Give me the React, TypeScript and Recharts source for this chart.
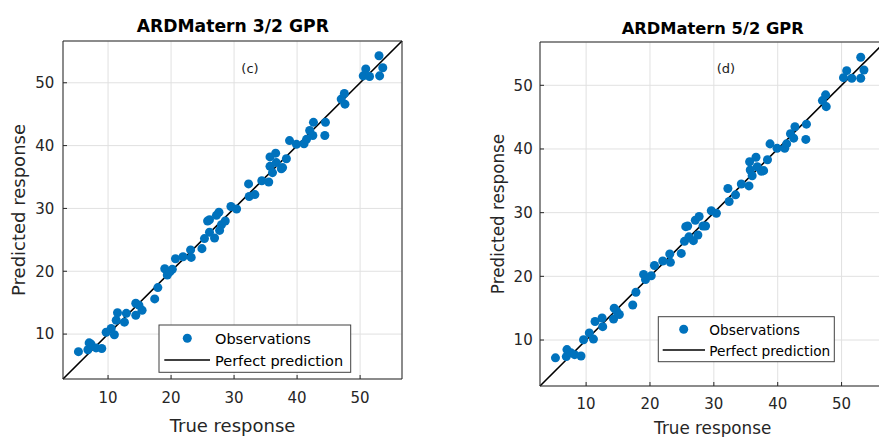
import React from 'react';
import { ScatterChart, Scatter, XAxis, YAxis, ZAxis, CartesianGrid, ReferenceLine } from 'recharts';

// ---- data ----
const tickValues = [10, 20, 30, 40, 50];

const trueC = [5.3, 6.8, 7.0, 7.3, 8.1, 9.0, 9.7, 10.5, 11.0, 11.3, 11.5, 12.6, 12.9, 14.4, 14.4, 14.9, 15.4, 17.4, 17.9, 19.0, 19.4, 19.8, 20.2, 20.7, 21.9, 23.1, 23.2, 24.9, 25.3, 26.1, 25.8, 26.1, 26.9, 27.2, 27.6, 27.7, 28.0, 28.6, 29.5, 30.4, 32.3, 32.4, 33.3, 34.4, 35.5, 35.7, 35.7, 36.1, 36.6, 36.7, 37.5, 37.7, 38.3, 38.8, 39.9, 41.1, 41.5, 42.0, 42.5, 42.6, 44.4, 44.5, 47.0, 47.5, 47.6, 50.5, 50.9, 51.5, 53.0, 53.1, 53.6];
const predC = [7.2, 7.5, 8.6, 8.4, 7.8, 7.7, 10.3, 10.9, 9.9, 12.2, 13.4, 11.9, 13.3, 13.0, 14.9, 14.6, 13.8, 15.6, 17.4, 20.4, 19.4, 19.9, 20.3, 22.0, 22.3, 23.4, 22.2, 23.6, 25.2, 26.2, 28.0, 28.2, 25.3, 28.9, 29.4, 26.5, 27.4, 28.0, 30.3, 29.9, 33.9, 31.9, 32.2, 34.4, 34.2, 36.7, 38.2, 35.7, 38.8, 37.3, 36.3, 36.5, 37.9, 40.8, 40.2, 40.3, 41.0, 42.4, 41.6, 43.7, 41.6, 43.7, 47.4, 48.3, 46.6, 51.1, 52.2, 51.0, 54.3, 51.1, 52.4];

const trueD = [5.2, 6.9, 7.0, 7.6, 8.2, 9.2, 9.6, 10.5, 11.15, 11.4, 12.5, 12.6, 14.3, 14.4, 14.8, 15.2, 17.3, 17.8, 19.0, 19.3, 20.2, 20.7, 22.0, 23.1, 23.2, 24.9, 25.4, 26.1, 25.6, 25.9, 26.8, 27.1, 27.7, 27.5, 28.3, 28.7, 29.6, 30.4, 32.2, 32.4, 33.4, 34.3, 35.5, 35.6, 36.6, 35.7, 36.0, 36.8, 37.45, 37.8, 38.4, 38.8, 39.9, 41.1, 41.4, 42.0, 42.5, 42.7, 44.5, 44.4, 47.0, 47.5, 47.6, 50.3, 50.8, 51.6, 53.0, 53.0, 53.5];
const predD = [7.2, 7.4, 8.5, 8.0, 7.7, 7.5, 10.05, 11.1, 10.15, 12.9, 13.45, 12.1, 13.3, 15.0, 14.5, 14.0, 15.5, 17.5, 20.3, 19.5, 20.1, 21.7, 22.4, 23.5, 22.2, 23.6, 25.5, 26.2, 27.8, 27.9, 25.6, 28.8, 29.4, 26.5, 27.9, 27.9, 30.3, 29.9, 33.8, 31.75, 32.8, 34.5, 34.2, 38.0, 38.7, 36.7, 35.8, 37.2, 36.5, 36.6, 38.3, 40.8, 40.1, 40.1, 40.8, 42.4, 41.7, 43.5, 43.9, 41.5, 47.6, 48.5, 46.65, 51.2, 52.3, 51.1, 54.4, 51.1, 52.4];

const domainC: [number, number] = [2.85, 56.65];
const domainD: [number, number] = [2.78, 56.8];

const dataC = trueC.map((x, i) => ({ x, y: predC[i] }));
const dataD = trueD.map((x, i) => ({ x, y: predD[i] }));

const FONT = '"DejaVu Sans", sans-serif';
const AX = '#262626';
const BLUE = '#0072BD';

type PanelProps = {
  data: { x: number; y: number }[];
  domain: [number, number];
  width: number;
  height: number;
  margin: { top: number; right: number; bottom: number; left: number };
  xTickMargin: number;
  yTickMargin: number;
};

function Panel({ data, domain, width, height, margin, xTickMargin, yTickMargin }: PanelProps) {
  const tickStyle = { fill: AX, fontSize: 15, fontFamily: FONT };
  return (
    <ScatterChart width={width} height={height} margin={margin}>
      <CartesianGrid stroke="#e1e1e1" strokeWidth={1} />
      <XAxis
        type="number"
        dataKey="x"
        domain={domain}
        ticks={tickValues}
        allowDataOverflow
        orientation="bottom"
        height={30}
        tickSize={-4}
        tickMargin={xTickMargin}
        stroke={AX}
        tick={tickStyle}
        interval={0}
      />
      <XAxis
        xAxisId="top"
        type="number"
        domain={domain}
        ticks={tickValues}
        allowDataOverflow
        orientation="top"
        height={2}
        tickSize={-4}
        stroke={AX}
        tick={false}
      />
      <YAxis
        type="number"
        dataKey="y"
        domain={domain}
        ticks={tickValues}
        allowDataOverflow
        orientation="left"
        width={40}
        tickSize={-4}
        tickMargin={yTickMargin}
        stroke={AX}
        tick={tickStyle}
        interval={0}
      />
      <YAxis
        yAxisId="right"
        type="number"
        domain={domain}
        ticks={tickValues}
        allowDataOverflow
        orientation="right"
        width={2}
        tickSize={-4}
        stroke={AX}
        tick={false}
      />
      <ZAxis range={[64, 64]} />
      <Scatter data={data} fill={BLUE} isAnimationActive={false} />
      <ReferenceLine
        segment={[{ x: domain[0], y: domain[0] }, { x: domain[1], y: domain[1] }]}
        stroke="#000"
        strokeWidth={1.6}
        ifOverflow="visible"
      />
    </ScatterChart>
  );
}

export default function App() {
  return (
    <div
      style={{
        position: 'absolute',
        left: 0,
        top: 0,
        width: 879,
        height: 437,
        overflow: 'hidden',
        background: '#fff',
      }}
    >
      <div style={{ position: 'absolute', left: 0, top: 0 }}>
        <Panel
          data={dataC}
          domain={domainC}
          width={440}
          height={437}
          margin={{ top: 39, right: 36, bottom: 28, left: 23 }}
          xTickMargin={17.5}
          yTickMargin={12.7}
        />
      </div>
      <div style={{ position: 'absolute', left: 440, top: 0 }}>
        <Panel
          data={dataD}
          domain={domainD}
          width={460}
          height={437}
          margin={{ top: 40, right: 13, bottom: 21, left: 60 }}
          xTickMargin={16.5}
          yTickMargin={11.3}
        />
      </div>
      <svg
        width={879}
        height={437}
        style={{ position: 'absolute', left: 0, top: 0, pointerEvents: 'none' }}
        fontFamily={FONT}
      >
        {/* left panel texts */}
        <text x={232.8} y={32.3} textAnchor="middle" fontSize={17.2} fontWeight="bold" fill="#000">
          ARDMatern 3/2 GPR
        </text>
        <text x={232.5} y={432.3} textAnchor="middle" fontSize={18} fill={AX}>
          True response
        </text>
        <text transform="translate(24.5,210) rotate(-90)" textAnchor="middle" fontSize={18} fill={AX}>
          Predicted response
        </text>
        <text x={250} y={73} textAnchor="middle" fontSize={13} fill="#1a1a1a">
          (c)
        </text>
        <rect x={159} y={325} width={191.7} height={47.3} fill="#fff" stroke="#404040" strokeWidth={1} />
        <circle cx={187.3} cy={338.3} r={4.5} fill={BLUE} />
        <line x1={164.3} y1={360} x2={210} y2={360} stroke="#000" strokeWidth={1.6} />
        <text x={215} y={343.8} fontSize={14.5} fill="#000">Observations</text>
        <text x={215} y={365.8} fontSize={14.5} fill="#000">Perfect prediction</text>

        {/* right panel texts */}
        <text x={712.7} y={34} textAnchor="middle" fontSize={16.3} fontWeight="bold" fill="#000">
          ARDMatern 5/2 GPR
        </text>
        <text x={712.7} y={433.5} textAnchor="middle" fontSize={16.8} fill={AX}>
          True response
        </text>
        <text transform="translate(504,214) rotate(-90)" textAnchor="middle" fontSize={16.8} fill={AX}>
          Predicted response
        </text>
        <text x={726} y={72.5} textAnchor="middle" fontSize={13} fill="#1a1a1a">
          (d)
        </text>
        <rect x={658.3} y={316.7} width={176} height={45} fill="#fff" stroke="#404040" strokeWidth={1} />
        <circle cx={683.7} cy={329.3} r={4.5} fill={BLUE} />
        <line x1={662.7} y1={350} x2={705} y2={350} stroke="#000" strokeWidth={1.6} />
        <text x={709.3} y={334.5} fontSize={13.7} fill="#000">Observations</text>
        <text x={709.3} y={355.5} fontSize={13.7} fill="#000">Perfect prediction</text>
      </svg>
    </div>
  );
}
